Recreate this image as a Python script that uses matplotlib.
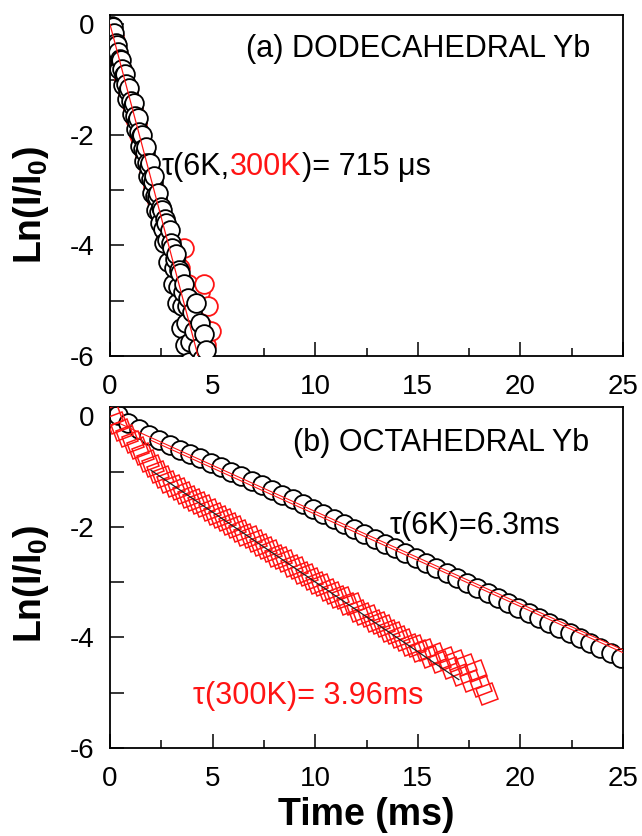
import matplotlib
matplotlib.use("Agg")
import matplotlib.pyplot as plt
from matplotlib.ticker import MultipleLocator, FixedLocator
from matplotlib.markers import MarkerStyle
from matplotlib.transforms import Affine2D

plt.rcParams['font.family'] = ['Liberation Sans', 'DejaVu Sans']
plt.rcParams['mathtext.fontset'] = 'custom'
plt.rcParams['mathtext.rm'] = 'Liberation Sans'
plt.rcParams['mathtext.it'] = 'Liberation Sans:italic'
plt.rcParams['mathtext.bf'] = 'Liberation Sans:bold'
plt.rcParams['axes.unicode_minus'] = False

# ---------------- data: (a) dodecahedral Yb ----------------
dod_6k_t = [0.05, 0.10, 0.15, 0.20, 0.25, 0.30, 0.35, 0.40, 0.45, 0.50,
            0.55, 0.60, 0.65, 0.70, 0.75, 0.80, 0.85, 0.90, 0.95, 1.00,
            1.05, 1.10, 1.15, 1.20, 1.25, 1.30, 1.35, 1.40, 1.45, 1.50,
            1.55, 1.60, 1.65, 1.70, 1.75, 1.80, 1.85, 1.90, 1.95, 2.00,
            2.05, 2.10, 2.15, 2.20, 2.25, 2.30, 2.35, 2.40, 2.45, 2.50,
            2.55, 2.60, 2.65, 2.70, 2.75, 2.80, 2.85, 2.90, 2.95, 3.00,
            3.05, 3.10, 3.15, 3.20, 3.25, 3.30, 3.35, 3.40, 3.45, 3.50,
            3.55, 3.60, 3.65, 3.70, 3.75, 3.80, 3.85, 3.90, 4.00, 4.10,
            4.20, 4.30, 4.40, 4.50, 4.60, 4.70, 4.80]
dod_6k_y = [-0.12, -0.02, -0.05, -0.15, -0.45, -0.33, -0.38, -0.50, -0.80, -0.62,
            -0.65, -0.80, -1.10, -0.92, -0.90, -1.08, -1.35, -1.20, -1.15, -1.38,
            -1.62, -1.48, -1.42, -1.65, -1.90, -1.75, -1.70, -1.95, -2.20, -2.02,
            -2.00, -2.25, -2.48, -2.30, -2.22, -2.50, -2.75, -2.58, -2.50, -2.80,
            -3.05, -2.85, -2.75, -3.10, -3.35, -3.12, -3.05, -3.40, -3.60, -3.30,
            -3.35, -3.70, -3.95, -3.52, -3.60, -3.90, -4.30, -3.72, -3.95, -4.05,
            -4.70, -4.40, -4.25, -4.15, -5.05, -4.75, -4.45, -4.50, -5.50, -5.10,
            -4.85, -4.70, -5.80, -5.40, -5.10, -4.95, -6.10, -5.75, -5.20, -5.55,
            -5.05, -5.85, -5.40, -6.05, -5.60, -5.90, -6.20]
dod_300k_t = [0.10, 0.20, 0.30, 0.40, 0.50, 0.60, 0.70, 0.80, 0.90, 1.00,
              1.10, 1.20, 1.30, 1.40, 1.50, 1.60, 1.70, 1.80, 1.90, 2.00,
              2.10, 2.20, 2.30, 2.40, 2.50, 2.60, 2.70, 2.80, 2.90, 3.00,
              3.10, 3.20, 3.30, 3.40, 3.50, 3.60, 3.70, 3.80, 3.90, 4.00,
              4.10, 4.20, 4.30, 4.40, 4.50, 4.60, 4.70, 4.80, 4.90]
dod_300k_y = [-0.08, -0.22, -0.40, -0.55, -0.72, -0.82, -1.00, -1.12, -1.28, -1.42,
              -1.55, -1.72, -1.82, -2.00, -2.12, -2.22, -2.40, -2.48, -2.68, -2.75,
              -2.92, -3.05, -3.20, -3.28, -3.48, -3.50, -3.75, -3.80, -3.95, -4.00,
              -4.25, -4.30, -4.55, -4.40, -4.85, -4.05, -5.00, -4.70, -5.30, -4.95,
              -5.60, -5.20, -5.75, -4.85, -5.45, -4.70, -5.80, -5.10, -5.55]
dod_tau = 0.715          # ms
dod_fit_b = 0.0

# ---------------- data: (b) octahedral Yb ----------------
oct_6k_t = [0.4, 0.9, 1.4, 1.9, 2.4, 2.9, 3.4, 3.9, 4.4, 4.9,
            5.4, 5.9, 6.4, 6.9, 7.4, 7.9, 8.4, 8.9, 9.4, 9.9,
            10.4, 10.9, 11.4, 11.9, 12.4, 12.9, 13.4, 13.9, 14.4, 14.9,
            15.4, 15.9, 16.4, 16.9, 17.4, 17.9, 18.4, 18.9, 19.4, 19.9,
            20.4, 20.9, 21.4, 21.9, 22.4, 22.9, 23.4, 23.9, 24.4, 24.9]
oct_6k_y = [0.02, -0.12, -0.23, -0.33, -0.43, -0.52, -0.60, -0.68, -0.76, -0.84,
            -0.92, -1.00, -1.08, -1.16, -1.25, -1.33, -1.42, -1.50, -1.58, -1.67,
            -1.76, -1.85, -1.94, -2.03, -2.12, -2.21, -2.30, -2.39, -2.48, -2.57,
            -2.66, -2.75, -2.84, -2.93, -3.02, -3.11, -3.20, -3.29, -3.38, -3.47,
            -3.56, -3.65, -3.74, -3.83, -3.92, -4.01, -4.10, -4.19, -4.28, -4.37]
oct_300k_t = [0.10, 0.35, 0.60, 0.85, 1.10, 1.35, 1.60, 1.85, 2.10, 2.35,
              2.60, 2.85, 3.10, 3.35, 3.60, 3.85, 4.10, 4.35, 4.60, 4.85,
              5.10, 5.35, 5.60, 5.85, 6.10, 6.35, 6.60, 6.85, 7.10, 7.35,
              7.60, 7.85, 8.10, 8.35, 8.60, 8.85, 9.10, 9.35, 9.60, 9.85,
              10.10, 10.35, 10.60, 10.85, 11.10, 11.35, 11.60, 11.85, 12.10, 12.35,
              12.60, 12.85, 13.10, 13.35, 13.60, 13.85, 14.10, 14.35, 14.60, 14.85,
              15.10, 15.35, 15.60, 15.85, 16.10, 16.35, 16.60, 16.85, 17.10, 17.35,
              17.60, 17.85, 18.10, 18.35]
oct_300k_y = [0.00, -0.12, -0.24, -0.35, -0.46, -0.57, -0.68, -0.80, -0.90, -1.00,
              -1.10, -1.18, -1.26, -1.32, -1.39, -1.45, -1.51, -1.57, -1.63, -1.69,
              -1.76, -1.82, -1.88, -1.95, -2.00, -2.07, -2.14, -2.19, -2.26, -2.32,
              -2.39, -2.44, -2.52, -2.57, -2.62, -2.70, -2.75, -2.83, -2.87, -2.95,
              -3.02, -3.05, -3.15, -3.19, -3.27, -3.29, -3.40, -3.40, -3.52, -3.58,
              -3.62, -3.70, -3.74, -3.80, -3.88, -3.92, -3.99, -4.05, -4.13, -4.15,
              -4.25, -4.22, -4.35, -4.30, -4.44, -4.38, -4.56, -4.42, -4.68, -4.50,
              -4.78, -4.60, -4.88, -5.02]
oct6_fit_slope = -0.167   # 1/ms  (tau ~ 6.3 ms)
oct6_fit_b = [-0.05, -0.10]
oct6_fit_range = [(0.5, 25.0), (2.0, 25.0)]
oct300_tau = 3.96
oct300_fit_b = -0.47
oct300_fit_range = (2.0, 17.0)

xticks = [0, 5, 10, 15, 20, 25]
yticks = [0, -2, -4, -6]

RED = '#ff1414'

fig = plt.figure(figsize=(6.42, 8.36), dpi=100)
ax1 = fig.add_axes([110/642, 1-356/836, 513/642, 341/836])
ax2 = fig.add_axes([110/642, 1-748/836, 513/642, 341/836])

for ax in (ax1, ax2):
    ax.set_xlim(0, 25)
    ax.set_ylim(-6, 0.17)
    ax.xaxis.set_major_locator(FixedLocator(xticks))
    ax.xaxis.set_minor_locator(MultipleLocator(2.5))
    ax.yaxis.set_major_locator(FixedLocator(yticks))
    ax.yaxis.set_minor_locator(MultipleLocator(1))
    ax.tick_params(which='both', direction='in', top=False, right=False,
                   labelsize=20, width=1.1, color='black')
    ax.tick_params(axis='x', which='both', pad=13)
    ax.tick_params(axis='y', which='both', pad=11)
    ax.tick_params(axis='x', which='major', length=10)
    ax.tick_params(axis='x', which='minor', length=5.5)
    ax.tick_params(axis='y', which='both', length=10)
    for s in ax.spines.values():
        s.set_linewidth(1.3)
    ax.set_ylabel('Ln(I/I$_\\mathbf{0}$)', fontsize=27, fontweight='bold')

ax1.yaxis.set_label_coords(-0.115, 0.443)
ax2.yaxis.set_label_coords(-0.115, 0.481)

# --- panel (a)
ax1.plot(dod_300k_t, dod_300k_y, 'o', ms=13.5, mfc='white', mec=RED, mew=1.3, zorder=2)
ax1.plot(dod_6k_t, dod_6k_y, 'o', ms=13.5, mfc='white', mec='black', mew=1.3, zorder=3)
fx = [0.0, 5.0]
ax1.plot(fx, [dod_fit_b - v / dod_tau for v in fx], '-', color=RED, lw=0.9, zorder=4)

# --- panel (b)
ax2.plot(oct_6k_t, oct_6k_y, 'o', ms=13.5, mfc='white', mec='black', mew=1.3, zorder=2)
for b, (x0, x1) in zip(oct6_fit_b, oct6_fit_range):
    ax2.plot([x0, x1], [b + oct6_fit_slope * x0, b + oct6_fit_slope * x1], '-',
             color=RED, lw=0.8, zorder=3)
diamond = MarkerStyle('s', fillstyle='none', transform=Affine2D().rotate_deg(20))
ax2.plot(oct_300k_t, oct_300k_y, ls='none', marker=diamond, ms=12, mec=RED,
         mew=1.1, zorder=4)
x0, x1 = oct300_fit_range
ax2.plot([x0, x1], [oct300_fit_b - x0 / oct300_tau, oct300_fit_b - x1 / oct300_tau],
         '-', color='#222222', lw=0.9, zorder=5)

# --- text
ax1.text(23.4, -0.45, '(a) DODECAHEDRAL Yb', fontsize=22, ha='right', va='center')
ax2.text(23.35, -0.49, '(b) OCTAHEDRAL Yb', fontsize=22, ha='right', va='center')

renderer = fig.canvas.get_renderer()


def multicolor(ax, x, y, parts, size):
    inv = ax.transData.inverted()
    for s, c in parts:
        t = ax.text(x, y, s, color=c, fontsize=size, ha='left', va='baseline')
        bb = t.get_window_extent(renderer=renderer)
        x = inv.transform((bb.x1, bb.y0))[0]


multicolor(ax1, 2.53, -2.72, [('\u03c4(6K,', 'black'), ('300K', RED),
                              (')= 715 \u03bcs', 'black')], 22)
ax2.text(13.65, -2.12, '\u03c4(6K)=6.3ms', fontsize=22, ha='left', va='baseline')
ax2.text(4.06, -5.21, '\u03c4(300K)= 3.96ms', fontsize=22, ha='left', va='baseline',
         color=RED)

ax2.set_xlabel('Time (ms)', fontsize=27, fontweight='bold')
ax2.xaxis.set_label_coords(0.5, -0.145)

fig.savefig('out.png', dpi=100)
